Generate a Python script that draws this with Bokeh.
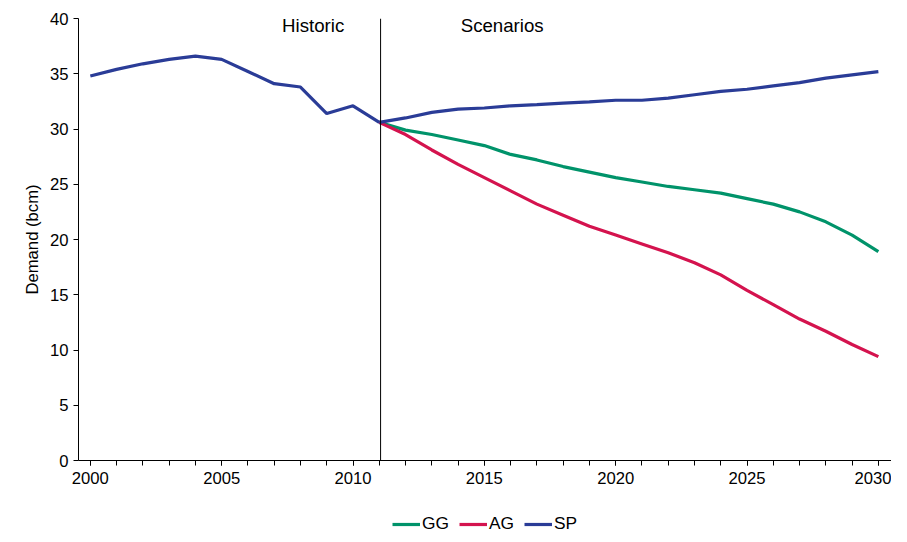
from bokeh.plotting import figure
from bokeh.models import Legend, Span, Label, FixedTicker, Range1d
from bokeh.layouts import column
from bokeh.embed import file_html
from bokeh.resources import INLINE

hist_years = list(range(2000, 2012))
hist = [34.8, 35.4, 35.9, 36.3, 36.6, 36.3, 35.2, 34.1, 33.8, 31.4, 32.1, 30.6]
scen_years = list(range(2011, 2031))
sp = [30.6, 31.0, 31.5, 31.8, 31.9, 32.1, 32.2, 32.35, 32.45, 32.6, 32.6, 32.8, 33.1, 33.4, 33.6, 33.9, 34.2, 34.6, 34.9, 35.2]
gg = [30.6, 29.9, 29.5, 29.0, 28.5, 27.7, 27.2, 26.6, 26.1, 25.6, 25.2, 24.8, 24.5, 24.2, 23.7, 23.2, 22.5, 21.6, 20.4, 18.9]
ag = [30.6, 29.5, 28.1, 26.8, 25.6, 24.4, 23.2, 22.2, 21.2, 20.4, 19.6, 18.8, 17.9, 16.8, 15.4, 14.1, 12.8, 11.7, 10.5, 9.4]
series_names = ["GG", "AG", "SP"]
xticks = [2000, 2005, 2010, 2015, 2020, 2025, 2030]
yticks = [0, 5, 10, 15, 20, 25, 30, 35, 40]

GREEN, RED, BLUE = "#00936A", "#D4134E", "#2A3C97"
F = "Liberation Sans"

p = figure(width=891, height=490, output_backend="svg", toolbar_location=None,
           x_range=Range1d(1999.55, 2030.5), y_range=Range1d(0, 40),
           min_border_left=78, min_border_top=18, min_border_right=0, min_border_bottom=30)
p.outline_line_color = None
p.grid.visible = False
for ax in (p.xaxis[0], p.yaxis[0]):
    ax.axis_line_color = "black"
    ax.major_tick_line_color = "black"
    ax.major_tick_in = 0
    ax.major_tick_out = 5
    ax.major_label_text_font = F
    ax.major_label_text_font_size = "12.5pt"
    ax.major_label_text_color = "black"
p.xaxis.ticker = FixedTicker(ticks=xticks, minor_ticks=list(range(2000, 2031)))
p.xaxis.minor_tick_in = 0
p.xaxis.minor_tick_out = 5
p.xaxis.minor_tick_line_color = "black"
p.xaxis.major_label_standoff = 6
p.yaxis.ticker = FixedTicker(ticks=yticks)
p.yaxis.minor_tick_line_color = None
p.yaxis.axis_label = "Demand (bcm)"
p.yaxis.axis_label_text_font = F
p.yaxis.axis_label_text_font_style = "normal"
p.yaxis.axis_label_text_font_size = "12.5pt"
p.yaxis.axis_label_text_color = "black"

p.line(hist_years, hist, color=BLUE, line_width=3.2)
p.line(scen_years, gg, color=GREEN, line_width=3.2)
p.line(scen_years, ag, color=RED, line_width=3.2)
p.line(scen_years, sp, color=BLUE, line_width=3.2)

p.add_layout(Span(location=2011.05, dimension="height", line_color="black", line_width=1))
p.add_layout(Label(x=2007.3, y=38.4, text="Historic", text_font=F, text_font_size="14pt",
                   text_color="black"))
p.add_layout(Label(x=2014.1, y=38.4, text="Scenarios", text_font=F, text_font_size="14pt",
                   text_color="black"))

# legend strip (proxy lines fall outside its 0..1 range, so only the legend shows)
lf = figure(width=891, height=44, output_backend="svg", toolbar_location=None,
            x_range=Range1d(0, 1), y_range=Range1d(0, 1), min_border=0)
lf.axis.visible = False
lf.grid.visible = False
lf.outline_line_color = None
rs = [lf.line(scen_years, s, color=c, line_width=3.2)
      for s, c in zip([gg, ag, sp], [GREEN, RED, BLUE])]
leg = Legend(items=[(n, [r]) for n, r in zip(series_names, rs)], orientation="horizontal",
             location=(378, 0), label_text_font=F, label_text_font_size="13pt",
             label_text_color="black", border_line_color=None, background_fill_alpha=0,
             glyph_width=28, spacing=10, label_standoff=2, padding=4, margin=0)
lf.add_layout(leg, "center")
leg.location = (314, 0)

open("out.html", "w").write(file_html(column(p, lf, spacing=0), INLINE))
